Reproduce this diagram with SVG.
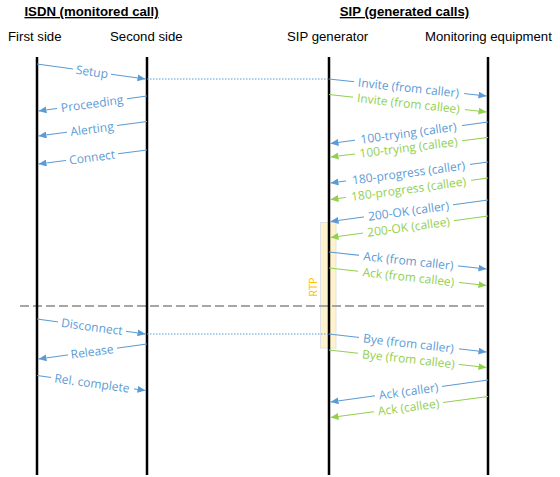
<svg xmlns="http://www.w3.org/2000/svg" xmlns:xlink="http://www.w3.org/1999/xlink" width="560" height="477" viewBox="0 0 560 477">
<style>
.title{font-family:"Liberation Sans",Arial,sans-serif;font-size:13.2px;font-weight:bold;text-decoration:underline;fill:#000}
.head{font-family:"Liberation Sans",Arial,sans-serif;font-size:13.2px;fill:#000}
.life{stroke:#000;stroke-width:2.5}
.b{stroke:#5b9bd5;stroke-width:1.2;fill:none}
.g{stroke:#92d050;stroke-width:1.2;fill:none}
.dot{stroke:#5b9bd5;stroke-width:1.2;stroke-dasharray:1.5 1.5;fill:none}
.lb{font-family:"Open Sans","Noto Sans",sans-serif;font-size:12px;text-anchor:middle;dominant-baseline:central}
.tb{fill:#5b9bd5}
.tg{fill:#92d050}
.rtp{font-family:"Open Sans","Noto Sans",sans-serif;font-size:11px;fill:#ffc000;text-anchor:middle;dominant-baseline:central}
</style>
<defs>
<filter id="bg" x="-0.03" y="0.2" width="1.06" height="0.6">
<feFlood flood-color="#ffffff"/>
</filter>
<marker id="ab" markerUnits="userSpaceOnUse" markerWidth="8" markerHeight="7" refX="8" refY="3.5" orient="auto"><path d="M0,0 L8,3.5 L0,7 z" fill="#5b9bd5"/></marker>
<marker id="ag" markerUnits="userSpaceOnUse" markerWidth="8" markerHeight="7" refX="8" refY="3.5" orient="auto"><path d="M0,0 L8,3.5 L0,7 z" fill="#92d050"/></marker>
</defs>
<rect width="560" height="477" fill="#ffffff"/>
<g id="titles">
<text class="title" x="91.5" y="16" text-anchor="middle">ISDN (monitored call)</text>
<text class="title" x="404.5" y="16" text-anchor="middle">SIP (generated calls)</text>
</g>
<g id="rtp">
<rect x="320.5" y="222.5" width="15.5" height="125.5" fill="#fff2cc" stroke="#dfe3e8" stroke-width="1"/>
<text class="rtp" transform="translate(312,287) rotate(-90)">RTP</text>
</g>
<g id="separator">
<line x1="20" y1="306" x2="484" y2="306" stroke="#a6a6a6" stroke-width="2" stroke-dasharray="9 4"/>
</g>
<g id="first-side">
<text class="head" x="8" y="41">First side</text>
<line class="life" x1="37" y1="57" x2="37" y2="475"/>
</g>
<g id="second-side">
<text class="head" x="110" y="41">Second side</text>
<line class="life" x1="147" y1="57" x2="147" y2="475"/>
</g>
<g id="sip-generator">
<text class="head" x="287" y="41">SIP generator</text>
<line class="life" x1="329" y1="57" x2="329" y2="475"/>
</g>
<g id="monitoring-equipment">
<text class="head" x="425" y="41">Monitoring equipment</text>
<line class="life" x1="488" y1="57" x2="488" y2="475"/>
</g>
<g id="connectors">
<g id="connector-lines">
<line class="b" x1="37" y1="64" x2="145.5" y2="79" marker-end="url(#ab)"/>
<line class="dot" x1="147" y1="79" x2="329" y2="79"/>
<line class="b" x1="147" y1="96" x2="38.5" y2="111" marker-end="url(#ab)"/>
<line class="b" x1="147" y1="121.5" x2="38.5" y2="136" marker-end="url(#ab)"/>
<line class="b" x1="147" y1="150" x2="38.5" y2="164" marker-end="url(#ab)"/>
<line class="b" x1="37" y1="319" x2="145.5" y2="334" marker-end="url(#ab)"/>
<line class="dot" x1="147" y1="334" x2="329" y2="334"/>
<line class="b" x1="147" y1="344" x2="38.5" y2="359" marker-end="url(#ab)"/>
<line class="b" x1="37" y1="375.5" x2="145.5" y2="390.5" marker-end="url(#ab)"/>
<line class="b" x1="329" y1="79" x2="486.5" y2="96" marker-end="url(#ab)"/>
<line class="g" x1="329" y1="94.5" x2="486.5" y2="112" marker-end="url(#ag)"/>
<line class="b" x1="488" y1="122" x2="330.5" y2="143.5" marker-end="url(#ab)"/>
<line class="g" x1="488" y1="137.5" x2="330.5" y2="157" marker-end="url(#ag)"/>
<line class="b" x1="488" y1="162" x2="330.5" y2="183" marker-end="url(#ab)"/>
<line class="g" x1="488" y1="178" x2="330.5" y2="199.5" marker-end="url(#ag)"/>
<line class="b" x1="488" y1="200" x2="330.5" y2="221.5" marker-end="url(#ab)"/>
<line class="g" x1="488" y1="216" x2="330.5" y2="237.5" marker-end="url(#ag)"/>
<line class="b" x1="329" y1="252" x2="486.5" y2="269" marker-end="url(#ab)"/>
<line class="g" x1="329" y1="268" x2="486.5" y2="285.5" marker-end="url(#ag)"/>
<line class="b" x1="329" y1="334" x2="486.5" y2="352" marker-end="url(#ab)"/>
<line class="g" x1="329" y1="350" x2="486.5" y2="367.5" marker-end="url(#ag)"/>
<line class="b" x1="488" y1="380" x2="330.5" y2="402" marker-end="url(#ab)"/>
<line class="g" x1="488" y1="396.5" x2="330.5" y2="417.5" marker-end="url(#ag)"/>
</g>
<g id="label-gaps" filter="none">
<use xlink:href="#l1" href="#l1" filter="url(#bg)"/>
<use xlink:href="#l2" href="#l2" filter="url(#bg)"/>
<use xlink:href="#l3" href="#l3" filter="url(#bg)"/>
<use xlink:href="#l4" href="#l4" filter="url(#bg)"/>
<use xlink:href="#l5" href="#l5" filter="url(#bg)"/>
<use xlink:href="#l6" href="#l6" filter="url(#bg)"/>
<use xlink:href="#l7" href="#l7" filter="url(#bg)"/>
<use xlink:href="#s1" href="#s1" filter="url(#bg)"/>
<use xlink:href="#s2" href="#s2" filter="url(#bg)"/>
<use xlink:href="#s3" href="#s3" filter="url(#bg)"/>
<use xlink:href="#s4" href="#s4" filter="url(#bg)"/>
<use xlink:href="#s5" href="#s5" filter="url(#bg)"/>
<use xlink:href="#s6" href="#s6" filter="url(#bg)"/>
<use xlink:href="#s7" href="#s7" filter="url(#bg)"/>
<use xlink:href="#s8" href="#s8" filter="url(#bg)"/>
<use xlink:href="#s9" href="#s9" filter="url(#bg)"/>
<use xlink:href="#s10" href="#s10" filter="url(#bg)"/>
<use xlink:href="#s11" href="#s11" filter="url(#bg)"/>
<use xlink:href="#s12" href="#s12" filter="url(#bg)"/>
<use xlink:href="#s13" href="#s13" filter="url(#bg)"/>
<use xlink:href="#s14" href="#s14" filter="url(#bg)"/>
</g>
<g id="connector-labels">
<text id="l1" class="lb tb" transform="translate(92,71.5) rotate(7.77)">Setup</text>
<text id="l2" class="lb tb" transform="translate(92,103.5) rotate(-7.77)">Proceeding</text>
<text id="l3" class="lb tb" transform="translate(92,128.75) rotate(-7.51)">Alerting</text>
<text id="l4" class="lb tb" transform="translate(92,157) rotate(-7.25)">Connect</text>
<text id="l5" class="lb tb" transform="translate(92,326.5) rotate(7.77)">Disconnect</text>
<text id="l6" class="lb tb" transform="translate(92,351.5) rotate(-7.77)">Release</text>
<text id="l7" class="lb tb" transform="translate(92,383) rotate(7.77)">Rel. complete</text>
<text id="s1" class="lb tb" transform="translate(408.5,87.5) rotate(6.10)">Invite (from caller)</text>
<text id="s2" class="lb tg" transform="translate(408.5,103.25) rotate(6.28)">Invite (from callee)</text>
<text id="s3" class="lb tb" transform="translate(408.5,132.75) rotate(-7.70)">100-trying (caller)</text>
<text id="s4" class="lb tg" transform="translate(408.5,147.25) rotate(-6.99)">100-trying (callee)</text>
<text id="s5" class="lb tb" transform="translate(408.5,172.5) rotate(-7.52)">180-progress (caller)</text>
<text id="s6" class="lb tg" transform="translate(408.5,188.75) rotate(-7.70)">180-progress (callee)</text>
<text id="s7" class="lb tb" transform="translate(408.5,210.75) rotate(-7.70)">200-OK (caller)</text>
<text id="s8" class="lb tg" transform="translate(408.5,226.75) rotate(-7.70)">200-OK (callee)</text>
<text id="s9" class="lb tb" transform="translate(408.5,260.5) rotate(6.10)">Ack (from caller)</text>
<text id="s10" class="lb tg" transform="translate(408.5,276.75) rotate(6.28)">Ack (from callee)</text>
<text id="s11" class="lb tb" transform="translate(408.5,343) rotate(6.46)">Bye (from caller)</text>
<text id="s12" class="lb tg" transform="translate(408.5,358.75) rotate(6.28)">Bye (from callee)</text>
<text id="s13" class="lb tb" transform="translate(408.5,391) rotate(-7.88)">Ack (caller)</text>
<text id="s14" class="lb tg" transform="translate(408.5,407) rotate(-7.52)">Ack (callee)</text>
</g>
</g>
</svg>
